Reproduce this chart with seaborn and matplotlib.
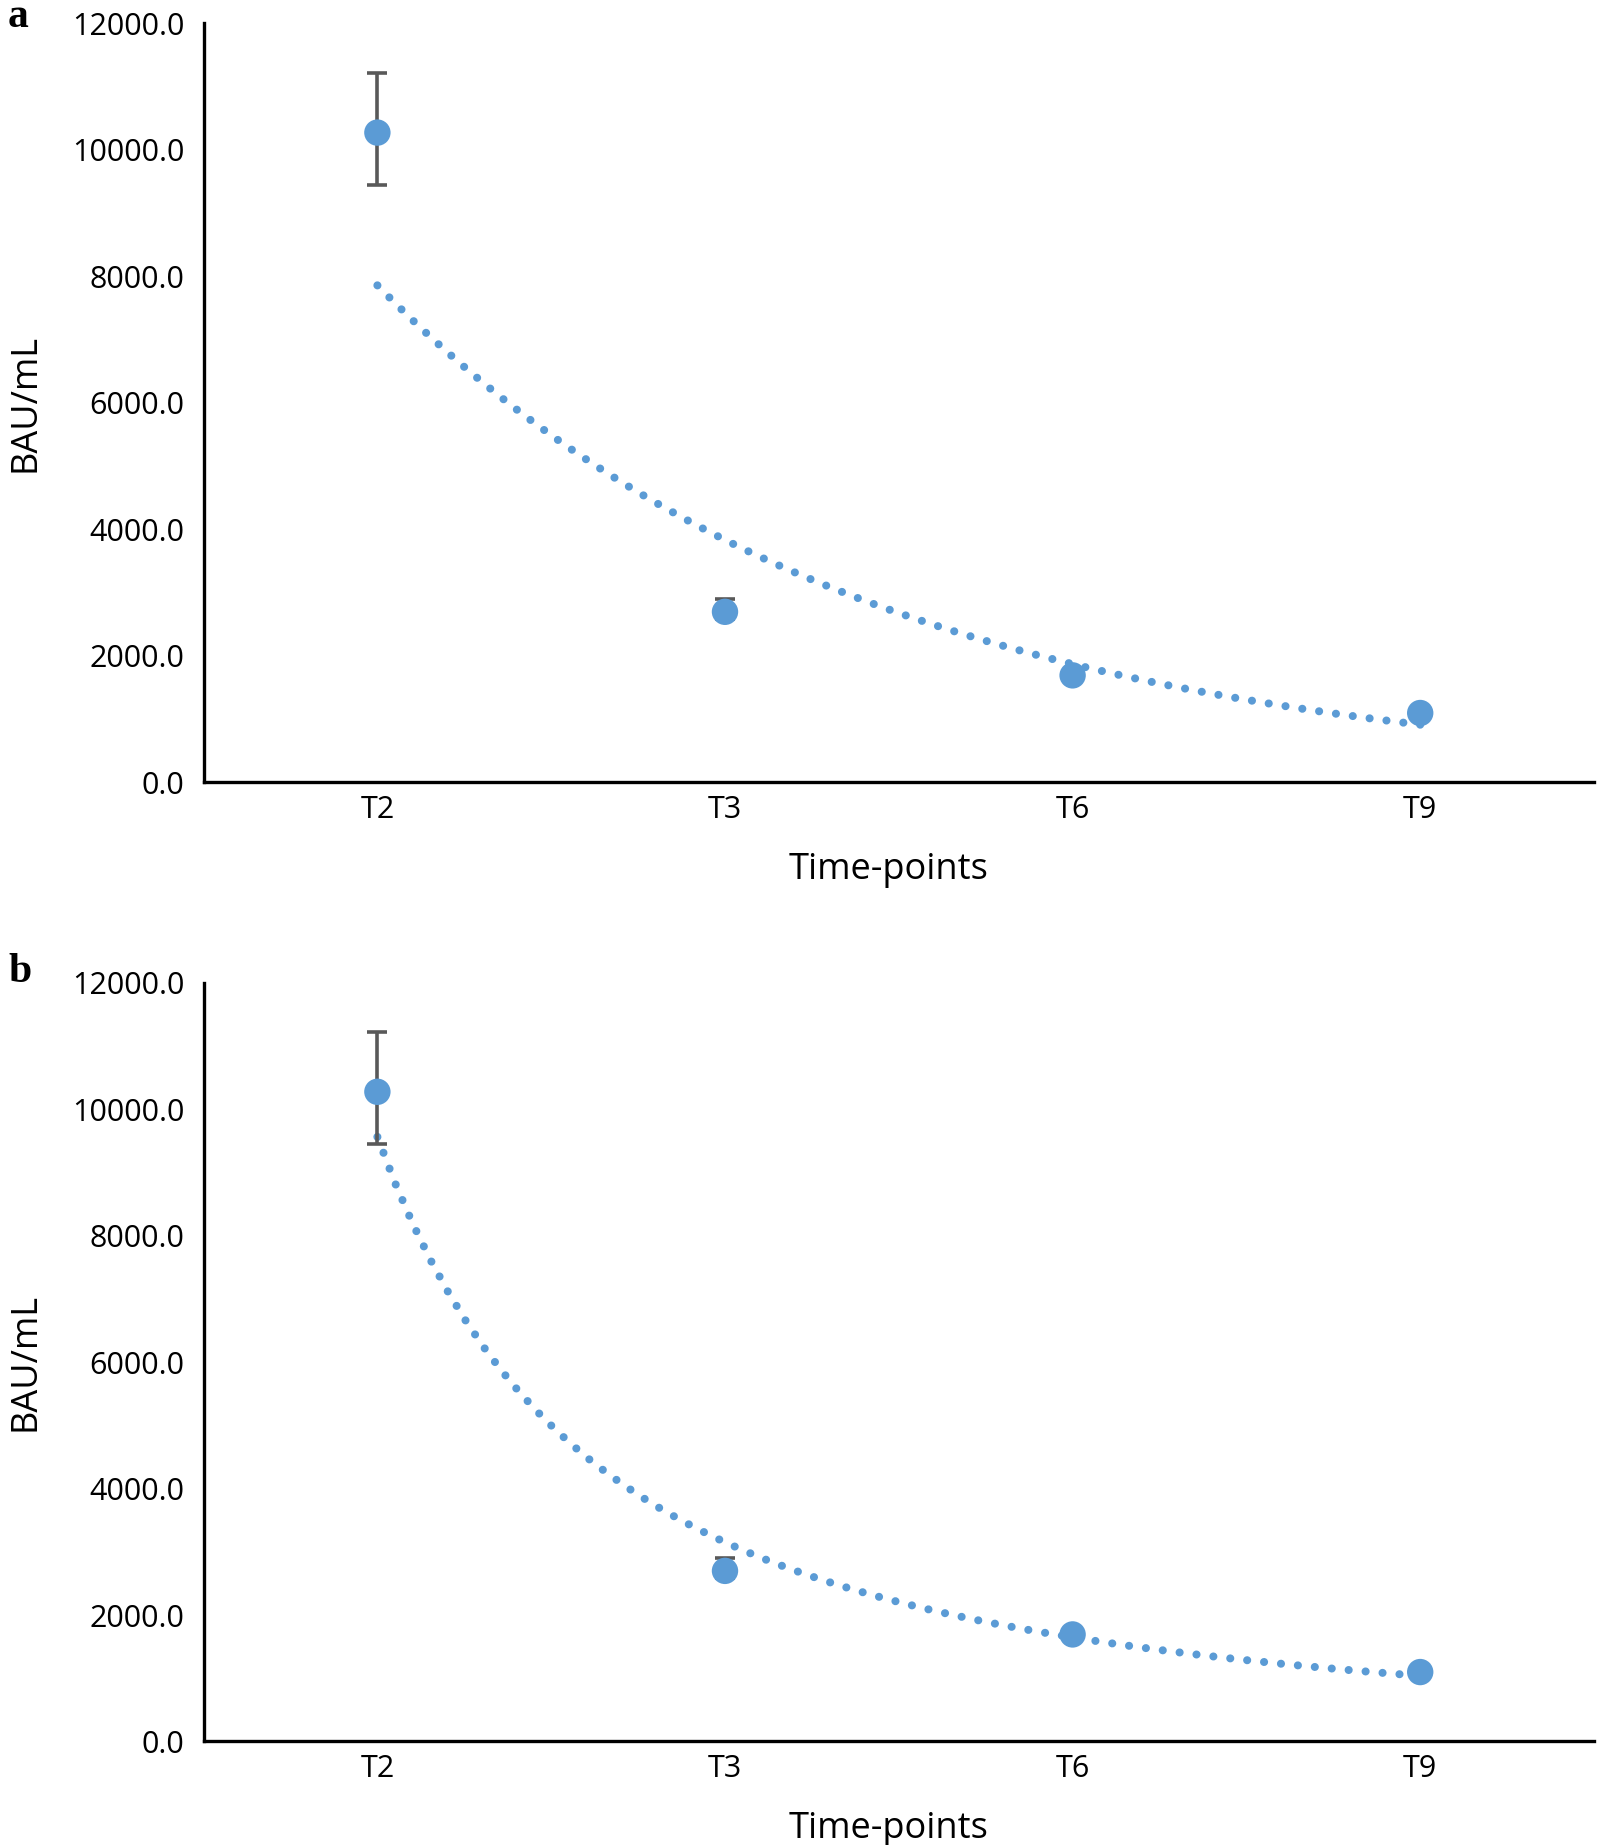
import numpy as np
import pandas as pd
import matplotlib
matplotlib.use("Agg")
import matplotlib.pyplot as plt
import seaborn as sns

# Data
time_points = ["T2", "T3", "T6", "T9"]
mean_bau = [10274, 2698, 1693, 1098]
err_upper = [939, 205, 60, 40]
err_lower = [827, 110, 60, 40]
panel_labels = ["a", "b"]
trend_kinds = ["exponential", "power"]

blue = "#5B9BD5"
grey = "#595959"

sns.set_theme(style="white")
plt.rcParams["font.family"] = ["Open Sans", "DejaVu Sans"]
plt.rcParams["text.color"] = "black"
plt.rcParams["axes.labelcolor"] = "black"

df = pd.DataFrame({"time": time_points, "pos": np.arange(len(time_points)), "bau": mean_bau})


def trendline(kind):
    # Excel-style trendline fitted on category index 1..n
    x = np.arange(1, len(mean_bau) + 1)
    ly = np.log(mean_bau)
    xs = np.linspace(1, len(mean_bau), 60)
    if kind == "exponential":
        b, a = np.polyfit(x, ly, 1)
        ys = np.exp(a + b * xs)
    else:
        b, a = np.polyfit(np.log(x), ly, 1)
        ys = np.exp(a) * xs ** b
    return pd.DataFrame({"pos": xs - 1, "bau": ys})


fig = plt.figure(figsize=(15.98, 18.45), dpi=100)
boxes = [[0.1274, 0.5759, 0.8701, 0.4114], [0.1274, 0.0561, 0.8701, 0.4113]]
label_y = [0.9854, 0.4678]

for box, label, kind, ly in zip(boxes, panel_labels, trend_kinds, label_y):
    ax = fig.add_axes(box)
    tr = trendline(kind)
    sns.lineplot(data=tr, x="pos", y="bau", ax=ax, color=blue, lw=5.8,
                 linestyle=(0, (0.01, 2.1)), dash_capstyle="round", zorder=2)
    ax.errorbar(df["pos"], df["bau"], yerr=[err_lower, err_upper], fmt="none",
                ecolor=grey, elinewidth=2.6, capsize=7.5, capthick=2.6, zorder=3)
    sns.scatterplot(data=df, x="pos", y="bau", ax=ax, color=blue, s=19 ** 2,
                    edgecolor="none", zorder=4)

    ax.set_xlim(-0.5, 3.5)
    ax.set_ylim(0, 12000)
    ax.set_yticks(np.arange(0, 12001, 2000))
    ax.set_yticklabels([f"{v:.1f}" for v in np.arange(0, 12001, 2000)])
    ax.set_xticks(df["pos"])
    ax.set_xticklabels(time_points)
    ax.tick_params(axis="both", labelsize=22, length=0, colors="black")
    ax.tick_params(axis="y", pad=14)
    ax.tick_params(axis="x", pad=9)
    ax.set_xlabel("Time-points", fontsize=26, labelpad=18)
    ax.set_ylabel("BAU/mL", fontsize=26, labelpad=20)
    ax.xaxis.set_label_coords(0.4924, -0.0915)
    for side in ["top", "right"]:
        ax.spines[side].set_visible(False)
    for side in ["left", "bottom"]:
        ax.spines[side].set_color("black")
        ax.spines[side].set_linewidth(2.4)
    ax.grid(False)

    fig.text(0.005, ly, label, fontsize=30, fontweight="bold",
             family="Liberation Serif", va="baseline", ha="left")

fig.savefig("out.png", dpi=100)
